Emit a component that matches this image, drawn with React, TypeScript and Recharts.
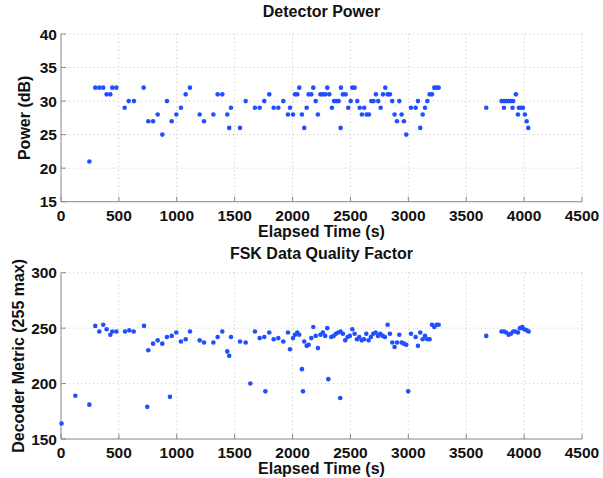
import React from 'react';
import {
  ScatterChart,
  Scatter,
  XAxis,
  YAxis,
  CartesianGrid,
} from 'recharts';

// [elapsed time (s), detector power (dB)]
const powerPoints: [number, number][] = [
  [245, 21], [296, 32], [331, 32], [365, 32], [394, 31], [426, 31], [443, 32], [478, 32],
  [550, 29], [585, 30], [630, 30], [714, 32], [754, 27], [795, 27], [835, 28], [875, 25],
  [915, 30], [956, 27], [996, 28], [1036, 29], [1077, 31], [1114, 32], [1198, 28], [1235, 27],
  [1316, 28], [1353, 31], [1393, 31], [1436, 28], [1453, 26], [1468, 29], [1546, 26], [1595, 30],
  [1675, 29], [1716, 29], [1756, 30], [1799, 31], [1837, 29], [1877, 29], [1920, 30], [1960, 28],
  [1978, 29], [2004, 28], [2021, 31], [2041, 31], [2058, 32], [2081, 28], [2101, 26], [2122, 29],
  [2139, 31], [2162, 31], [2179, 32], [2200, 30], [2219, 28], [2241, 31], [2262, 31], [2282, 31],
  [2300, 32], [2317, 31], [2340, 29], [2358, 30], [2378, 30], [2398, 30], [2415, 26], [2418, 32],
  [2435, 31], [2459, 31], [2481, 29], [2502, 30], [2516, 32], [2536, 32], [2559, 30], [2580, 29],
  [2599, 28], [2619, 29], [2640, 28], [2660, 28], [2680, 30], [2700, 30], [2720, 31], [2740, 30],
  [2761, 29], [2781, 31], [2801, 32], [2821, 31], [2841, 31], [2861, 30], [2881, 28], [2902, 27],
  [2922, 30], [2942, 28], [2962, 27], [2982, 25], [3023, 29], [3063, 29], [3083, 30], [3103, 26],
  [3124, 28], [3144, 29], [3164, 30], [3184, 31], [3204, 31], [3224, 32], [3244, 32], [3262, 32],
  [3673, 29], [3805, 30], [3826, 30], [3826, 29], [3846, 30], [3866, 30], [3886, 30], [3900, 29],
  [3906, 30], [3929, 31], [3947, 28], [3955, 29], [3973, 29], [3990, 29], [4007, 28], [4022, 27],
  [4036, 26],
];

// [elapsed time (s), decoder metric]
const qualityPoints: [number, number][] = [
  [5, 164], [124, 189], [245, 181], [296, 252], [331, 247], [365, 253], [394, 249], [426, 244],
  [443, 247], [478, 247], [553, 247], [590, 248], [628, 247], [717, 252], [745, 179], [754, 230],
  [795, 236], [835, 239], [875, 236], [915, 242], [941, 188], [956, 243], [996, 246], [1036, 238],
  [1077, 240], [1114, 247], [1198, 239], [1235, 237], [1316, 237], [1353, 242], [1393, 247], [1436, 229],
  [1453, 225], [1468, 242], [1546, 238], [1595, 237], [1635, 200], [1675, 247], [1716, 241], [1756, 242],
  [1765, 193], [1799, 246], [1837, 240], [1877, 241], [1920, 238], [1960, 246], [1978, 231], [2004, 241],
  [2021, 244], [2041, 246], [2058, 244], [2081, 213], [2090, 193], [2101, 238], [2122, 234], [2139, 235],
  [2162, 241], [2179, 251], [2200, 243], [2219, 232], [2241, 244], [2262, 246], [2282, 243], [2300, 250],
  [2309, 204], [2334, 242], [2355, 243], [2375, 245], [2395, 246], [2412, 187], [2415, 247], [2435, 245],
  [2455, 239], [2475, 242], [2495, 243], [2516, 249], [2536, 245], [2556, 240], [2576, 242], [2597, 239],
  [2617, 240], [2637, 245], [2657, 239], [2677, 242], [2697, 245], [2718, 246], [2738, 243], [2758, 245],
  [2778, 243], [2798, 242], [2821, 253], [2841, 245], [2861, 237], [2881, 233], [2902, 237], [2922, 244],
  [2942, 237], [2962, 236], [2982, 235], [2999, 193], [3023, 245], [3063, 242], [3083, 234], [3103, 246],
  [3124, 240], [3144, 243], [3164, 240], [3184, 240], [3204, 253], [3224, 251], [3244, 253], [3262, 253],
  [3673, 243], [3805, 247], [3826, 247], [3846, 246], [3866, 244], [3886, 245], [3906, 247], [3926, 247],
  [3947, 246], [3964, 250], [3984, 251], [4001, 249], [4022, 248], [4039, 247],
];

const timeTicks = [0, 500, 1000, 1500, 2000, 2500, 3000, 3500, 4000, 4500];
const powerTicks = [15, 20, 25, 30, 35, 40];
const qualityTicks = [150, 200, 250, 300];

const FONT = '"Liberation Sans", Arial, Helvetica, sans-serif';
const DOT = '#1f4fff';
const BOX = '#8a8a8a';

const toRows = (pts: [number, number][]) => pts.map(([t, v]) => ({ t, v }));

const dot = (p: any) => <circle cx={p.cx} cy={p.cy} r={2.3} fill={DOT} />;

interface PanelProps {
  title: string;
  yLabel: string;
  rows: { t: number; v: number }[];
  yDomain: [number, number];
  yTicks: number[];
  top: number;
  height: number;
  plotTop: number;
  plotBottom: number;
  yLabelX: number;
  titleY: number;
}

function Panel({ title, yLabel, rows, yDomain, yTicks, top, height, plotTop, plotBottom, yLabelX, titleY }: PanelProps) {
  const plotLeft = 61;
  const plotRight = 582;
  const tickStyle = { fill: '#111', fontSize: 15.5, fontWeight: 700, fontFamily: FONT };
  const textStyle = { fill: '#111', fontSize: 16, fontWeight: 700, fontFamily: FONT };
  const midY = (plotTop + plotBottom) / 2;

  return (
    <div style={{ position: 'absolute', left: 0, top, width: 603, height }}>
      <div
        style={{
          position: 'absolute',
          left: plotLeft,
          width: plotRight - plotLeft,
          top: titleY,
          textAlign: 'center',
          font: `700 16px ${FONT}`,
          color: '#111',
        }}
      >
        {title}
      </div>
      <ScatterChart
        width={603}
        height={height}
        margin={{ top: plotTop, right: 603 - plotRight, bottom: 0, left: 0 }}
      >
        <CartesianGrid stroke="#c4c4c4" strokeDasharray="1 3" />
        <XAxis
          dataKey="t"
          type="number"
          domain={[0, 4500]}
          ticks={timeTicks}
          height={height - plotBottom}
          stroke={BOX}
          tickSize={-5}
          tickMargin={13}
          tick={tickStyle}
          interval={0}
          label={{
            content: () => (
              <text x={(plotLeft + plotRight) / 2} y={plotBottom + 35} textAnchor="middle" style={textStyle}>
                Elapsed Time (s)
              </text>
            ),
          }}
        />
        <XAxis xAxisId="top" orientation="top" type="number" domain={[0, 4500]} ticks={timeTicks} height={0} stroke={BOX} tickSize={-5} tick={false} />
        <YAxis
          dataKey="v"
          type="number"
          domain={yDomain}
          ticks={yTicks}
          width={plotLeft}
          stroke={BOX}
          tickSize={-5}
          tickMargin={9}
          tick={tickStyle}
          interval={0}
          label={{
            content: () => (
              <text
                x={yLabelX}
                y={midY}
                textAnchor="middle"
                dominantBaseline="central"
                transform={`rotate(-90 ${yLabelX} ${midY})`}
                style={textStyle}
              >
                {yLabel}
              </text>
            ),
          }}
        />
        <YAxis yAxisId="right" orientation="right" type="number" domain={yDomain} ticks={yTicks} width={0} stroke={BOX} tickSize={-5} tick={false} />
        <Scatter data={rows} shape={dot} isAnimationActive={false} />
      </ScatterChart>
    </div>
  );
}

export default function App() {
  return (
    <div style={{ position: 'absolute', left: 0, top: 0, width: 603, height: 478, background: '#fff' }}>
      <Panel
        title="Detector Power"
        yLabel="Power (dB)"
        rows={toRows(powerPoints)}
        yDomain={[15, 40]}
        yTicks={powerTicks}
        top={0}
        height={245}
        plotTop={34}
        plotBottom={201.7}
        yLabelX={25}
        titleY={3}
      />
      <Panel
        title="FSK Data Quality Factor"
        yLabel="Decoder Metric (255 max)"
        rows={toRows(qualityPoints)}
        yDomain={[150, 300]}
        yTicks={qualityTicks}
        top={245}
        height={233}
        plotTop={27.7}
        plotBottom={194}
        yLabelX={18.5}
        titleY={0}
      />
    </div>
  );
}
